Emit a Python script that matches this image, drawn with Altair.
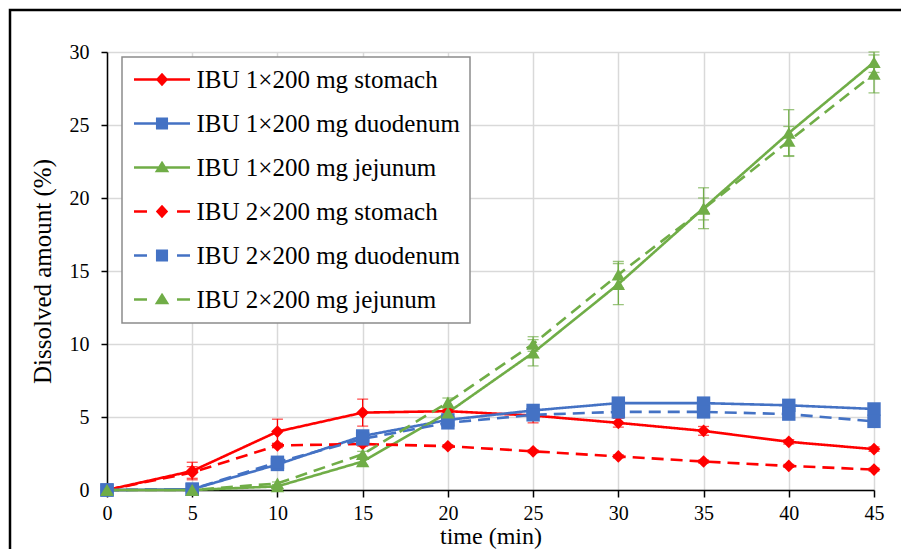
import altair as alt
import pandas as pd

# Sampling times (min)
times = [0, 5, 10, 15, 20, 25, 30, 35, 40, 45]

series_names = [
    "IBU 1×200 mg stomach",
    "IBU 1×200 mg duodenum",
    "IBU 1×200 mg jejunum",
    "IBU 2×200 mg stomach",
    "IBU 2×200 mg duodenum",
    "IBU 2×200 mg jejunum",
]

# Dissolved amount (%) per compartment, mean and SD
stomach_1 = [0, 1.3, 4.0, 5.3, 5.4, 5.1, 4.6, 4.05, 3.3, 2.8]
stomach_1_sd = [0, 0.6, 0.85, 0.93, 0.1, 0.5, 0.3, 0.3, 0.15, 0.15]
duodenum_1 = [0, 0.05, 1.75, 3.7, 4.8, 5.45, 5.95, 5.95, 5.8, 5.55]
duodenum_1_sd = [0, 0, 0.1, 0.15, 0.15, 0.2, 0.15, 0.15, 0.15, 0.15]
jejunum_1 = [0, 0, 0.25, 1.95, 5.3, 9.4, 14.1, 19.3, 24.45, 29.3]
jejunum_1_sd = [0, 0, 0.1, 0.25, 0.3, 0.9, 1.4, 1.4, 1.6, 0.7]
stomach_2 = [0, 1.2, 3.05, 3.15, 3.0, 2.65, 2.3, 1.95, 1.65, 1.4]
stomach_2_sd = [0, 0.4, 0.15, 0.15, 0.1, 0.1, 0.1, 0.1, 0.1, 0.1]
duodenum_2 = [0, 0.05, 1.9, 3.5, 4.6, 5.15, 5.35, 5.35, 5.2, 4.7]
duodenum_2_sd = [0, 0, 0.1, 0.15, 0.15, 0.15, 0.15, 0.15, 0.15, 0.15]
jejunum_2 = [0, 0, 0.45, 2.45, 6.0, 10.0, 14.75, 19.25, 23.9, 28.5]
jejunum_2_sd = [0, 0, 0.1, 0.2, 0.3, 0.5, 0.9, 0.75, 1.0, 1.3]

means = [stomach_1, duodenum_1, jejunum_1, stomach_2, duodenum_2, jejunum_2]
sds = [stomach_1_sd, duodenum_1_sd, jejunum_1_sd, stomach_2_sd, duodenum_2_sd, jejunum_2_sd]

colors = ["#FF0000", "#4472C4", "#70AD47", "#FF0000", "#4472C4", "#70AD47"]
markers = ["diamond", "square", "triangle-up", "diamond", "square", "triangle-up"]
styles = ["solid", "solid", "solid", "dashed", "dashed", "dashed"]

# Legend glyphs: line (solid or broken) with the marker in the middle
_line_solid = "M-2.8,0L2.8,0"
_line_dash = "M-2.8,0L-1.5,0M1.5,0L2.8,0"
_diamond = "M0,-0.5L0.45,0L0,0.5L-0.45,0Z"
_square = "M-0.48,-0.48L0.48,-0.48L0.48,0.48L-0.48,0.48Z"
_triangle = "M0,-0.45L0.5,0.35L-0.5,0.35Z"
legend_glyphs = [
    _line_solid + _diamond,
    _line_solid + _square,
    _line_solid + _triangle,
    _line_dash + _diamond,
    _line_dash + _square,
    _line_dash + _triangle,
]

rows = []
for name, mk, st, vals, errs in zip(series_names, markers, styles, means, sds):
    for t, v, e in zip(times, vals, errs):
        rows.append({"series": name, "marker": mk, "style": st, "time": t,
                     "value": v, "err": e, "lo": v - e, "hi": v + e})
df = pd.DataFrame(rows)

FONT = "Liberation Serif"

color_scale = alt.Scale(domain=series_names, range=colors)
x_scale = alt.Scale(domain=[0, 45], nice=False, zero=True)
y_scale = alt.Scale(domain=[0, 30], nice=False)

x_axis = alt.Axis(
    values=times, grid=True, gridColor="#d9d9d9", gridWidth=1.5,
    domainColor="black", domainWidth=1.5, tickColor="black", tickWidth=1.5,
    tickSize=7, labelFont=FONT, labelFontSize=20, labelColor="black",
    labelPadding=6, labelFlush=False,
    title="time (min)", titleFont=FONT, titleFontSize=24,
    titleFontWeight="normal", titleColor="black",
    titleY=53, titleBaseline="alphabetic",
)
y_axis = alt.Axis(
    values=[0, 5, 10, 15, 20, 25, 30], grid=True, gridColor="#d9d9d9",
    gridWidth=1.5, domainColor="black", domainWidth=1.5, tickColor="black",
    tickWidth=1.5, tickSize=6, labelFont=FONT, labelFontSize=20,
    labelColor="black", labelPadding=12, labelFlush=False,
    title="Dissolved amount (%)", titleFont=FONT, titleFontSize=25,
    titleFontWeight="normal", titleColor="black",
    titleX=-57, titleY=219, titleAngle=270, titleAlign="center",
    titleBaseline="alphabetic",
)

base = alt.Chart(df)
X = alt.X("time:Q", scale=x_scale, axis=x_axis)
Y = alt.Y("value:Q", scale=y_scale, axis=y_axis)

legend_kw = dict(
    title=None, orient="none", legendX=15, legendY=5, columns=1,
    fillColor="white", strokeColor="#8c8c8c", padding=10,
    labelFont=FONT, labelFontSize=25, labelColor="black", labelLimit=0,
    labelOffset=22, symbolOffset=17.5, symbolSize=400, symbolStrokeWidth=2.5,
    rowPadding=18,
)

# Legend-only layer (no rows drawn): carries the legend entries
legend_layer = base.transform_filter("false").mark_point(filled=True, opacity=1).encode(
    color=alt.Color("series:N", scale=color_scale, legend=alt.Legend(**legend_kw)),
    stroke=alt.Stroke("series:N", scale=alt.Scale(domain=series_names, range=colors),
                      legend=alt.Legend(**legend_kw)),
    shape=alt.Shape("series:N", scale=alt.Scale(domain=series_names, range=legend_glyphs),
                    legend=alt.Legend(**legend_kw)),
)

lines = base.mark_line(strokeWidth=2.6).encode(
    x=X, y=Y,
    color=alt.Color("series:N", scale=color_scale, legend=None),
    strokeDash=alt.StrokeDash("style:N", scale=alt.Scale(domain=["solid", "dashed"], range=[[1, 0], [12, 7]]), legend=None),
    detail="series:N",
)

err_data = base.transform_filter("datum.err > 0")
err_rules = err_data.mark_rule(strokeWidth=1.3).encode(
    x="time:Q", y="lo:Q", y2="hi:Q",
    color=alt.Color("series:N", scale=color_scale, legend=None),
)
err_lo = err_data.mark_tick(orient="horizontal", size=11, thickness=1.3).encode(
    x="time:Q", y="lo:Q", color=alt.Color("series:N", scale=color_scale, legend=None),
)
err_hi = err_data.mark_tick(orient="horizontal", size=11, thickness=1.3).encode(
    x="time:Q", y="hi:Q", color=alt.Color("series:N", scale=color_scale, legend=None),
)

marker_sizes = {"diamond": 160, "square": 180, "triangle-up": 180}
point_layers = []
for mk in ["diamond", "square", "triangle-up"]:
    point_layers.append(
        base.transform_filter(alt.datum.marker == mk)
        .mark_point(filled=True, opacity=1, shape=mk, size=marker_sizes[mk])
        .encode(x="time:Q", y="value:Q",
                color=alt.Color("series:N", scale=color_scale, legend=None))
    )

# Outer chart frame
frame = alt.Chart(alt.Data(values=[{}])).mark_rect(
    filled=False, stroke="black", strokeWidth=2.5, clip=False
).encode(x=alt.value(-97), x2=alt.value(830), y=alt.value(-42), y2=alt.value(560))

chart = alt.layer(
    legend_layer, lines, err_rules, err_lo, err_hi, *point_layers, frame
).properties(
    width=767, height=438,
    padding={"left": 107, "top": 52, "right": 27, "bottom": 59},
    autosize=alt.AutoSizeParams(type="none"),
    background="white",
).configure_view(stroke=None).configure_legend(
    strokeWidth=1.5, labelFont=FONT, labelFontSize=25, labelColor="black"
)

chart.save("out.html", embed_options={"renderer": "svg", "actions": False})
